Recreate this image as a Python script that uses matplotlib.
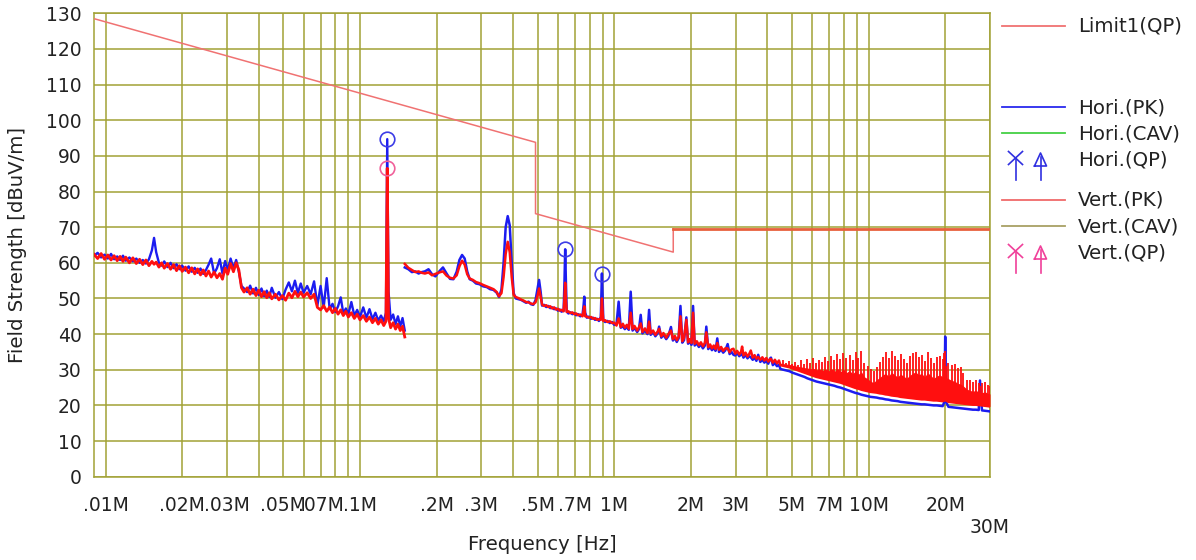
import numpy as np
import matplotlib
matplotlib.use("Agg")
import matplotlib.pyplot as plt
from matplotlib.ticker import NullFormatter

plt.rcParams['font.family'] = ['DejaVu Sans']

# ---------------- data ----------------
# limit line (MHz, dBuV/m)
limit_f = [0.009, 0.49, 0.49, 1.705, 1.705, 30.0]
limit_v = [128.5, 93.8, 73.8, 63.0, 69.5, 69.5]

# scan range 1 : 9 kHz - 150 kHz (frequency in kHz)
f1_khz = [
    9.0, 9.3, 9.6, 9.9, 10.2, 10.5, 10.8, 11.1, 11.4, 11.7,
    12.0, 12.4, 12.8, 13.2, 13.6, 14.0, 14.4, 14.8, 15.2, 15.5,
    15.8, 16.2, 16.6, 17.0, 17.5, 18.0, 18.5, 19.0, 19.5, 20.0,
    20.6, 21.2, 21.8, 22.4, 23.0, 23.6, 24.2, 24.8, 25.4, 26.0,
    26.7, 27.4, 28.1, 28.8, 29.5, 30.2, 31.0, 31.8, 32.6, 33.4,
    34.2, 35.0, 36.0, 37.0, 38.0, 39.0, 40.0, 41.0, 42.0, 43.0,
    44.0, 45.0, 46.5, 48.0, 49.5, 51.0, 52.5, 54.0, 55.5, 57.0,
    58.5, 60.0, 62.0, 64.0, 66.0, 68.0, 70.0, 72.0, 74.0, 76.0,
    78.0, 80.0, 82.0, 84.0, 86.0, 88.0, 90.0, 92.5, 95.0, 97.5,
    100.0, 103.0, 106.0, 109.0, 112.0, 115.0, 118.0, 121.0, 124.0, 126.5,
    128.0, 129.5, 132.0, 135.0, 138.0, 141.0, 144.0, 147.0, 150.0]
vert1 = [
    62.4, 61.2, 62.6, 61.0, 62.2, 60.8, 62.0, 60.6, 61.8, 60.4,
    61.6, 60.0, 61.4, 59.8, 61.0, 59.5, 60.8, 59.2, 60.4, 59.6,
    60.2, 58.8, 60.0, 58.5, 59.8, 58.2, 59.5, 57.8, 59.2, 57.6,
    58.8, 57.2, 58.6, 56.9, 58.3, 56.6, 58.0, 56.3, 57.7, 56.0,
    57.4, 55.8, 57.0, 55.4, 58.5, 56.8, 59.8, 57.5, 60.0, 58.0,
    53.0, 51.8, 53.0, 51.2, 52.6, 50.8, 52.3, 50.5, 51.9, 50.2,
    51.6, 49.9, 51.2, 49.6, 50.8, 49.5, 51.5, 50.2, 52.0, 50.5,
    51.8, 50.4, 51.6, 50.0, 51.2, 47.5, 46.8, 48.0, 46.4, 47.6,
    46.0, 47.2, 45.6, 46.8, 45.2, 46.4, 44.8, 46.0, 44.4, 45.6,
    44.0, 45.2, 43.6, 44.8, 43.2, 44.4, 42.8, 44.0, 42.4, 43.6,
    86.5, 44.5, 41.8, 43.2, 41.4, 42.8, 41.0, 42.2, 39.2]
hori1 = [
    62.0, 62.8, 61.5, 62.3, 61.2, 62.5, 61.0, 61.8, 60.8, 62.0,
    60.6, 61.5, 60.4, 61.2, 60.0, 60.8, 59.8, 61.0, 63.5, 67.0,
    63.0, 60.0, 59.2, 60.4, 58.8, 60.0, 58.5, 59.6, 58.2, 59.2,
    57.8, 59.0, 57.5, 58.6, 57.2, 58.4, 56.9, 58.0, 59.5, 61.2,
    57.0, 58.5, 61.0, 57.0, 60.5, 58.0, 61.2, 58.5, 60.8, 57.5,
    53.5, 52.8, 51.8, 53.6, 51.4, 53.0, 51.0, 52.8, 50.6, 52.2,
    50.4, 53.0, 50.2, 51.8, 49.8, 52.5, 54.5, 52.0, 55.0, 51.5,
    54.2, 51.6, 53.5, 51.2, 54.8, 48.0, 53.5, 47.5, 55.7, 47.0,
    48.5, 46.2, 47.8, 50.3, 45.8, 47.2, 45.6, 49.0, 45.2, 46.8,
    44.8, 47.5, 44.6, 47.0, 44.2, 46.0, 43.8, 45.2, 43.6, 46.0,
    94.7, 52.0, 44.0, 45.5, 42.8, 45.0, 42.2, 44.5, 41.0]

# scan range 2 : 150 kHz - 4.5 MHz (frequency in MHz)
f2 = [
    0.150, 0.155, 0.160, 0.165, 0.170, 0.175, 0.180, 0.186, 0.192, 0.198,
    0.205, 0.212, 0.219, 0.226, 0.233, 0.240, 0.246, 0.252, 0.258, 0.264,
    0.270, 0.278, 0.286, 0.295, 0.305, 0.315, 0.325, 0.335, 0.345, 0.352,
    0.360, 0.367, 0.374, 0.381, 0.388, 0.395, 0.402, 0.410, 0.420, 0.430,
    0.440, 0.450, 0.460, 0.470, 0.480, 0.490, 0.500, 0.506, 0.513, 0.520,
    0.530, 0.540, 0.550, 0.560, 0.570, 0.580, 0.590, 0.600, 0.610, 0.620,
    0.632, 0.637, 0.641, 0.645, 0.650, 0.660, 0.672, 0.684, 0.696, 0.708,
    0.720, 0.735, 0.750, 0.757, 0.762, 0.768, 0.780, 0.795, 0.810, 0.825,
    0.840, 0.855, 0.870, 0.885, 0.890, 0.894, 0.898, 0.905, 0.920, 0.940,
    0.960, 0.980, 1.000, 1.020, 1.040, 1.060, 1.080, 1.100, 1.120, 1.140,
    1.160, 1.180, 1.200, 1.230, 1.250, 1.270, 1.290, 1.320, 1.350, 1.370,
    1.390, 1.420, 1.450, 1.480, 1.500, 1.530, 1.560, 1.600, 1.630, 1.670,
    1.700, 1.730, 1.760, 1.790, 1.820, 1.850, 1.880, 1.920, 1.950, 1.980,
    2.010, 2.040, 2.070, 2.110, 2.150, 2.190, 2.230, 2.270, 2.300, 2.340,
    2.380, 2.420, 2.460, 2.500, 2.540, 2.580, 2.630, 2.680, 2.730, 2.790,
    2.840, 2.890, 2.940, 2.990, 3.040, 3.100, 3.150, 3.180, 3.220, 3.280,
    3.340, 3.390, 3.440, 3.500, 3.560, 3.620, 3.680, 3.750, 3.820, 3.890,
    3.960, 4.030, 4.100, 4.130, 4.200, 4.280, 4.360, 4.440]
vert2 = [
    59.7, 58.6, 58.0, 57.4, 57.6, 57.2, 57.0, 57.3, 56.5, 56.9,
    57.3, 57.6, 56.4, 55.8, 55.6, 56.5, 59.0, 60.6, 59.5, 56.8,
    55.6, 55.2, 54.6, 54.3, 53.8, 53.4, 53.0, 52.6, 51.8, 50.6,
    51.5, 56.0, 62.5, 65.9, 63.0, 56.0, 51.0, 50.4, 50.1, 49.7,
    49.4, 49.0, 48.9, 48.6, 48.4, 48.9, 51.0, 52.8, 50.5, 48.3,
    47.9, 48.1, 47.6, 47.8, 47.2, 47.5, 46.9, 47.1, 46.6, 46.8,
    46.4, 50.0, 54.4, 50.0, 46.2, 46.4, 45.9, 46.1, 45.6, 45.8,
    45.3, 45.5, 45.0, 46.5, 47.8, 45.0, 44.9, 44.6, 44.8, 44.3,
    44.5, 44.0, 44.2, 44.0, 47.0, 50.0, 47.0, 43.7, 43.9, 43.4,
    43.6, 43.1, 43.2, 42.4, 44.4, 42.0, 42.9, 41.8, 42.6, 41.5,
    46.0, 41.4, 42.3, 41.0, 41.9, 43.0, 40.6, 41.6, 40.3, 43.5,
    40.2, 41.0, 39.8, 40.7, 41.5, 39.4, 40.3, 39.0, 40.0, 41.0,
    38.6, 39.5, 38.3, 39.2, 45.0, 38.0, 38.9, 44.0, 37.7, 38.6,
    37.5, 46.0, 37.3, 38.0, 36.9, 37.7, 36.6, 37.5, 40.5, 36.3,
    37.1, 36.0, 36.8, 35.8, 37.5, 35.6, 36.4, 35.3, 36.0, 36.0,
    34.9, 35.7, 35.9, 34.5, 35.3, 34.3, 35.0, 36.5, 34.0, 34.8,
    33.7, 34.4, 35.4, 33.4, 34.1, 33.1, 33.6, 32.8, 33.5, 32.6,
    33.3, 32.3, 33.0, 33.0, 32.0, 32.8, 31.8, 32.6]
hori2 = [
    58.7, 58.2, 57.4, 57.6, 57.0, 57.4, 57.6, 58.2, 56.8, 56.2,
    57.6, 58.7, 57.0, 55.5, 55.4, 57.5, 60.8, 62.2, 61.2, 57.6,
    55.4, 55.0, 54.2, 54.0, 53.4, 53.2, 52.6, 52.4, 51.6, 50.4,
    52.5, 60.0, 70.0, 73.1, 70.5, 60.0, 51.5, 50.0, 49.8, 49.6,
    49.2, 48.8, 49.1, 48.4, 48.2, 49.5, 53.0, 55.2, 52.0, 48.0,
    48.2, 47.6, 47.9, 47.3, 47.5, 47.0, 47.2, 46.6, 46.9, 46.3,
    46.6, 55.0, 63.8, 55.0, 46.4, 45.8, 46.1, 45.6, 45.9, 45.3,
    45.6, 45.0, 45.4, 48.0, 50.5, 46.0, 44.6, 44.9, 44.3, 44.6,
    44.0, 44.3, 43.7, 44.8, 52.0, 57.0, 52.0, 44.0, 43.4, 43.7,
    43.1, 43.4, 42.6, 42.8, 49.1, 41.8, 42.2, 41.4, 42.0, 41.2,
    51.9, 41.0, 41.8, 40.6, 41.4, 45.4, 40.2, 41.0, 40.0, 46.8,
    39.8, 40.6, 39.4, 40.2, 42.1, 39.0, 39.8, 38.6, 39.4, 42.0,
    38.2, 39.0, 37.8, 38.8, 47.9, 37.6, 38.3, 44.7, 37.3, 38.0,
    37.0, 47.9, 36.8, 37.4, 36.4, 37.1, 36.0, 36.8, 42.1, 35.8,
    36.5, 35.5, 36.2, 35.3, 38.8, 35.0, 35.7, 34.8, 35.4, 37.2,
    34.4, 35.0, 34.2, 34.0, 34.7, 33.8, 34.4, 34.4, 33.4, 34.2,
    33.2, 33.8, 33.5, 32.8, 33.4, 32.5, 34.2, 32.2, 32.8, 32.0,
    32.5, 31.7, 33.2, 33.4, 31.3, 31.9, 31.0, 31.4]

# scan range 2, dense part 4.5 - 30 MHz :
# vertical trace floor, upper edge of its dense (solid) part, spike tops; horizontal trace
f3 = [
    4.50, 4.62, 4.75, 4.88, 5.01, 5.15, 5.29, 5.44, 5.59, 5.74,
    5.90, 6.06, 6.23, 6.40, 6.58, 6.76, 6.95, 7.14, 7.34, 7.54,
    7.75, 7.96, 8.18, 8.41, 8.64, 8.88, 9.12, 9.37, 9.63, 9.90,
    10.17, 10.45, 10.74, 11.04, 11.34, 11.65, 11.97, 12.30, 12.64, 12.99,
    13.35, 13.72, 14.10, 14.49, 14.89, 15.30, 15.72, 16.15, 16.60, 17.06,
    17.53, 18.01, 18.51, 19.02, 19.54, 19.85, 20.00, 20.15, 20.60, 21.20,
    21.80, 22.40, 23.00, 23.60, 24.30, 25.00, 25.70, 26.40, 27.10, 27.40,
    27.90, 28.70, 29.40, 30.00]
vert3_floor = [
    31.3, 31.1, 30.9, 30.7, 30.4, 30.1, 29.8, 29.5, 29.2, 28.9,
    28.6, 28.3, 28.0, 27.8, 27.6, 27.4, 27.2, 27.0, 26.8, 26.6,
    26.4, 26.1, 25.8, 25.5, 25.2, 24.9, 24.7, 24.4, 24.2, 24.0,
    23.8, 23.7, 23.6, 23.4, 23.3, 23.1, 23.0, 22.8, 22.7, 22.6,
    22.4, 22.3, 22.2, 22.1, 22.0, 21.9, 21.8, 21.7, 21.7, 21.6,
    21.5, 21.4, 21.4, 21.3, 21.2, 21.4, 23.0, 21.4, 21.0, 20.9,
    20.8, 20.7, 20.6, 20.5, 20.4, 20.3, 20.2, 20.2, 20.1, 20.1,
    20.0, 19.9, 19.8, 19.7]
vert3_dense = [
    31.8, 31.7, 31.6, 31.5, 31.3, 31.1, 30.9, 30.8, 30.6, 30.5,
    30.3, 30.4, 30.0, 30.2, 29.8, 30.2, 29.7, 30.3, 29.6, 30.4,
    29.5, 30.2, 29.2, 29.8, 28.9, 29.6, 28.8, 29.4, 28.0, 27.5,
    26.8, 26.4, 27.2, 27.8, 28.5, 29.0, 28.2, 29.3, 28.6, 28.0,
    28.8, 28.2, 27.6, 28.4, 29.0, 29.4, 28.6, 29.0, 28.0, 29.2,
    28.4, 27.6, 28.2, 28.6, 28.0, 29.2, 30.0, 27.8, 27.5, 27.0,
    26.8, 26.2, 26.0, 25.4, 24.6, 24.2, 24.0, 24.2, 23.8, 23.6,
    23.6, 23.8, 23.4, 23.2]
vert3_top = [
    32.0, 32.6, 31.8, 32.4, 31.6, 32.2, 31.4, 32.8, 31.6, 33.0,
    32.0, 33.2, 31.8, 32.8, 32.2, 33.6, 32.4, 34.0, 32.6, 34.4,
    33.0, 34.8, 33.2, 34.2, 32.8, 35.0, 33.4, 35.2, 32.0, 31.0,
    30.2, 29.6, 30.8, 32.2, 33.6, 35.0, 33.2, 35.2, 34.0, 32.6,
    34.4, 33.0, 31.8, 33.8, 34.6, 35.0, 33.6, 34.2, 32.4, 35.0,
    33.4, 32.0, 33.6, 34.0, 33.0, 34.6, 35.2, 31.0, 32.0, 31.2,
    31.6, 30.4, 30.8, 29.0, 27.2, 27.0, 26.6, 27.0, 26.4, 25.4,
    26.2, 26.6, 25.8, 25.4]
hori3 = [
    30.2, 30.0, 29.8, 29.6, 29.2, 28.9, 28.6, 28.3, 28.0, 27.6,
    27.3, 27.0, 26.7, 26.5, 26.3, 26.1, 25.9, 25.7, 25.5, 25.2,
    25.0, 24.7, 24.4, 24.1, 23.8, 23.5, 23.3, 23.0, 22.8, 22.6,
    22.4, 22.3, 22.2, 22.0, 21.9, 21.7, 21.6, 21.4, 21.3, 21.2,
    21.0, 20.9, 20.8, 20.7, 20.6, 20.5, 20.4, 20.3, 20.3, 20.2,
    20.1, 20.0, 20.0, 19.9, 19.8, 21.0, 39.3, 21.0, 19.6, 19.5,
    19.4, 19.3, 19.2, 19.1, 19.0, 18.9, 18.8, 18.8, 18.7, 27.0,
    18.6, 18.5, 18.4, 18.3]

# quasi-peak final measurements
qp_hori_f = [0.128, 0.641, 0.894]
qp_hori_v = [94.7, 63.8, 57.0]
qp_vert_f = [0.128]
qp_vert_v = [86.5]

x_major = [0.01, 0.02, 0.03, 0.05, 0.07, 0.1, 0.2, 0.3, 0.5, 0.7, 1, 2, 3, 5, 7, 10, 20, 30]
x_labels = ['.01M', '.02M', '.03M', '.05M', '.07M', '.1M', '.2M', '.3M', '.5M', '.7M',
            '1M', '2M', '3M', '5M', '7M', '10M', '20M', '\n30M']
x_minor = [0.04, 0.06, 0.08, 0.09, 0.4, 0.6, 0.8, 0.9, 4, 6, 8, 9]
y_ticks = [0, 10, 20, 30, 40, 50, 60, 70, 80, 90, 100, 110, 120, 130]

# ---------------- figure ----------------
W, H = 1196, 560
fig = plt.figure(figsize=(W / 100, H / 100), dpi=100, facecolor='white')
L, R, T, B = 94, 990, 13.3, 476.7
ax = fig.add_axes([L / W, 1 - B / H, (R - L) / W, (B - T) / H])
ax.set_xscale('log')
ax.set_xlim(0.009, 30)
ax.set_ylim(0, 130)

grid_c = '#a2a236'
txt_c = '#222222'
fs_tick = 13.5
fs = 14.2

ax.set_xticks(x_major)
ax.set_xticklabels(x_labels)
ax.set_xticks(x_minor, minor=True)
ax.xaxis.set_minor_formatter(NullFormatter())
ax.set_yticks(y_ticks)
ax.grid(which='both', color=grid_c, lw=1.1)
ax.set_axisbelow(True)
ax.tick_params(axis='x', which='both', length=0, labelsize=fs_tick, pad=14, colors=txt_c)
ax.tick_params(axis='y', which='both', length=0, labelsize=fs_tick, pad=9, colors=txt_c)
for s in ax.spines.values():
    s.set_color(grid_c)
    s.set_linewidth(1.1)

blue = '#1c1cf0'
red = '#ff0f0f'

# limit line
ax.plot(limit_f[:5], limit_v[:5], color='#f07272', lw=1.1, zorder=3)
ax.plot(limit_f[4:], limit_v[4:], color='#e8603c', lw=2.0, zorder=3)

f1 = np.array(f1_khz) / 1000.0
# horizontal polarisation (blue) under vertical (red)
ax.plot(f1, hori1, color=blue, lw=1.7, zorder=4)
ax.plot(f1, vert1, color=red, lw=2.0, zorder=5)

f23 = np.concatenate([f2, f3])
ax.plot(f23, np.concatenate([hori2, hori3]), color=blue, lw=1.8, zorder=4)
ax.fill_between(f3, vert3_floor, vert3_dense, color=red, lw=0, zorder=5)
ax.vlines(f3, vert3_floor, vert3_top, color=red, lw=1.3, zorder=5)
ax.plot(f23, np.concatenate([vert2, vert3_floor]), color=red, lw=1.8, zorder=5)

# QP markers
ax.plot(qp_hori_f, qp_hori_v, 'o', ms=10.5, mfc='none', mec='#3c3ce6', mew=1.2, zorder=6)
ax.plot(qp_vert_f, qp_vert_v, 'o', ms=10.5, mfc='none', mec='#f0609a', mew=1.2, zorder=6)

# axis titles
fig.text(542 / W, 1 - 545 / H, 'Frequency [Hz]', ha='center', va='center', fontsize=fs, color=txt_c)
fig.text(18 / W, 1 - 245 / H, 'Field Strength [dBuV/m]', ha='center', va='center',
         rotation=90, fontsize=fs, color=txt_c)

# ---------------- legend (pixel overlay) ----------------
lax = fig.add_axes([0, 0, 1, 1], facecolor='none')
lax.set_xlim(0, W)
lax.set_ylim(H, 0)
lax.axis('off')

items = [(25.5, '#f07272', 'Limit1(QP)'),
         (106.7, '#2a2aee', 'Hori.(PK)'),
         (133.0, '#44d044', 'Hori.(CAV)'),
         (199.5, '#f06a6a', 'Vert.(PK)'),
         (226.0, '#a8a064', 'Vert.(CAV)')]
for yy, c, t in items:
    lax.plot([1002, 1065], [yy, yy], color=c, lw=1.3)
    lax.text(1078, yy + 1, t, ha='left', va='center', fontsize=fs, color=txt_c)


def qp_symbol(yc, color):
    # X with stem
    xc = 1015.5
    lax.plot([xc - 7, xc + 7], [yc - 6.5, yc + 6.5], color=color, lw=1.2)
    lax.plot([xc - 7, xc + 7], [yc + 6.5, yc - 6.5], color=color, lw=1.2)
    lax.plot([xc, xc], [yc, yc + 22], color=color, lw=1.2)
    # hollow arrow
    xa = 1040.5
    lax.plot([xa, xa], [yc + 22, yc - 1], color=color, lw=1.2)
    lax.plot([xa - 6, xa, xa + 6, xa - 6], [yc + 8, yc - 5, yc + 8, yc + 8], color=color, lw=1.2)


qp_symbol(158, '#3030e0')
lax.text(1078, 160, 'Hori.(QP)', ha='left', va='center', fontsize=fs, color=txt_c)
qp_symbol(251, '#f0409a')
lax.text(1078, 253, 'Vert.(QP)', ha='left', va='center', fontsize=fs, color=txt_c)

fig.savefig('out.png', dpi=100, facecolor='white')
